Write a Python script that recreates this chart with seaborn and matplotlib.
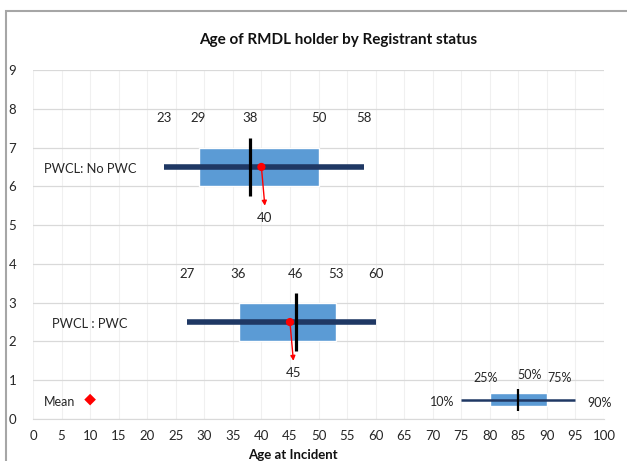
import matplotlib
matplotlib.use("Agg")
import matplotlib.pyplot as plt
import matplotlib.patches as mpatches
import seaborn as sns
import pandas as pd

# box summary per registrant status (percentiles of age)
groups = ["PWCL: No PWC", "PWCL : PWC"]
p10 = [23, 27]
p25 = [29, 36]
p50 = [38, 46]
p75 = [50, 53]
p90 = [58, 60]
means = [40, 45]
rows = [6.5, 2.5]

# legend key (generic percentiles)
key_vals = [75, 80, 85, 90, 95]
key_labels = ["10%", "25%", "50%", "75%", "90%"]
key_row = 0.5
mean_key_x = 10

BOX_COLOR = "#5B9BD5"
WHISKER_COLOR = "#1F3864"
TEXT_COLOR = "#262626"

sns.set_style("whitegrid")
plt.rcParams["font.family"] = ["Lato", "DejaVu Sans"]

fig = plt.figure(figsize=(6.27, 4.61), dpi=100)
ax = fig.add_axes([33 / 627, 1 - 419 / 461, 571 / 627, 349 / 461])

df = pd.DataFrame({"group": groups, "p10": p10, "p25": p25, "p50": p50,
                   "p75": p75, "p90": p90, "mean": means, "row": rows})

# -----------------------------------
# main boxes
# -----------------------------------
ax.hlines(df["row"], df["p10"], df["p90"], color=WHISKER_COLOR, lw=4, zorder=3)
ax.barh(df["row"], df["p75"] - df["p25"], left=df["p25"], height=1.0,
        color=BOX_COLOR, zorder=2)
ax.vlines(df["p50"], df["row"] - 0.75, df["row"] + 0.75, color="black", lw=2.3, zorder=4)
sns.scatterplot(data=df, x="mean", y="row", color="red", marker="o", s=35,
                edgecolor="none", zorder=5, ax=ax)

for _, r in df.iterrows():
    for col in ["p10", "p25", "p50", "p75", "p90"]:
        ax.text(r[col], r["row"] + 1.25, f"{r[col]:.0f}", ha="center", va="center",
                fontsize=9.5, color=TEXT_COLOR)
    ax.annotate("", xy=(r["mean"] + 0.6, r["row"] - 1.0), xytext=(r["mean"], r["row"]),
                arrowprops=dict(arrowstyle="-|>", color="red", lw=1, mutation_scale=7,
                                shrinkA=0, shrinkB=0), zorder=6)
    ax.text(r["mean"] + 0.6, r["row"] - 1.32, f"{r['mean']:.0f}", ha="center",
            va="center", fontsize=9.5, color=TEXT_COLOR)
    ax.text(10, r["row"] - 0.05, r["group"], ha="center", va="center",
            fontsize=9.3, color=TEXT_COLOR)

# -----------------------------------
# legend key
# -----------------------------------
ax.hlines(key_row, key_vals[0], key_vals[4], color=WHISKER_COLOR, lw=1.8, zorder=3)
ax.barh(key_row, key_vals[3] - key_vals[1], left=key_vals[1], height=0.33,
        color=BOX_COLOR, zorder=2)
ax.vlines(key_vals[2], key_row - 0.3, key_row + 0.28, color="black", lw=1.6, zorder=4)
ax.text(key_vals[0] - 3.4, key_row - 0.05, key_labels[0], ha="center", va="center",
        fontsize=9, color=TEXT_COLOR)
ax.text(key_vals[4] + 4.2, key_row - 0.08, key_labels[4], ha="center", va="center",
        fontsize=9, color=TEXT_COLOR)
ax.text(key_vals[1] - 0.8, key_row + 0.55, key_labels[1], ha="center", va="center",
        fontsize=9, color=TEXT_COLOR)
ax.text(key_vals[2] + 1.9, key_row + 0.63, key_labels[2], ha="center", va="center",
        fontsize=9, color=TEXT_COLOR)
ax.text(key_vals[3] + 2.3, key_row + 0.57, key_labels[3], ha="center", va="center",
        fontsize=9, color=TEXT_COLOR)
sns.scatterplot(x=[mean_key_x], y=[key_row], color="red", marker="D", s=35,
                edgecolor="none", zorder=5, ax=ax)
ax.text(4.7, key_row - 0.05, "Mean", ha="center", va="center", fontsize=9,
        color=TEXT_COLOR)

# -----------------------------------
# axes styling
# -----------------------------------
ax.set_xlim(0, 100)
ax.set_ylim(0, 9)
ax.set_xticks(range(0, 101, 5))
ax.set_yticks(range(0, 10))
ax.set_xlabel("")
ax.set_ylabel("")
ax.tick_params(axis="both", length=0, labelsize=9.5, colors=TEXT_COLOR)
ax.tick_params(axis="x", pad=8)
ax.tick_params(axis="y", pad=12)
ax.grid(axis="y", color="#D9D9D9", lw=0.9)
ax.grid(axis="x", color="#F0F0F0", lw=0.8)
for side in ["top", "right", "left"]:
    ax.spines[side].set_visible(False)
ax.spines["bottom"].set_color("#D9D9D9")
ax.set_facecolor("white")

fig.text(338 / 627, 1 - 40 / 461, "Age of RMDL holder by Registrant status",
         ha="center", va="center", fontsize=11, fontweight="bold", color="#111111")
fig.text(293 / 627, 1 - 455 / 461, "Age at Incident", ha="center", va="center",
         fontsize=9.5, fontweight="bold", color="#111111")

frame = mpatches.Rectangle((6 / 627, -0.05), 1.0, 1 - 11 / 461 + 0.05,
                           transform=fig.transFigure, fill=False,
                           edgecolor="#A6A6A6", lw=1.5, clip_on=False)
fig.patches.append(frame)

fig.savefig("out.png", dpi=100)
